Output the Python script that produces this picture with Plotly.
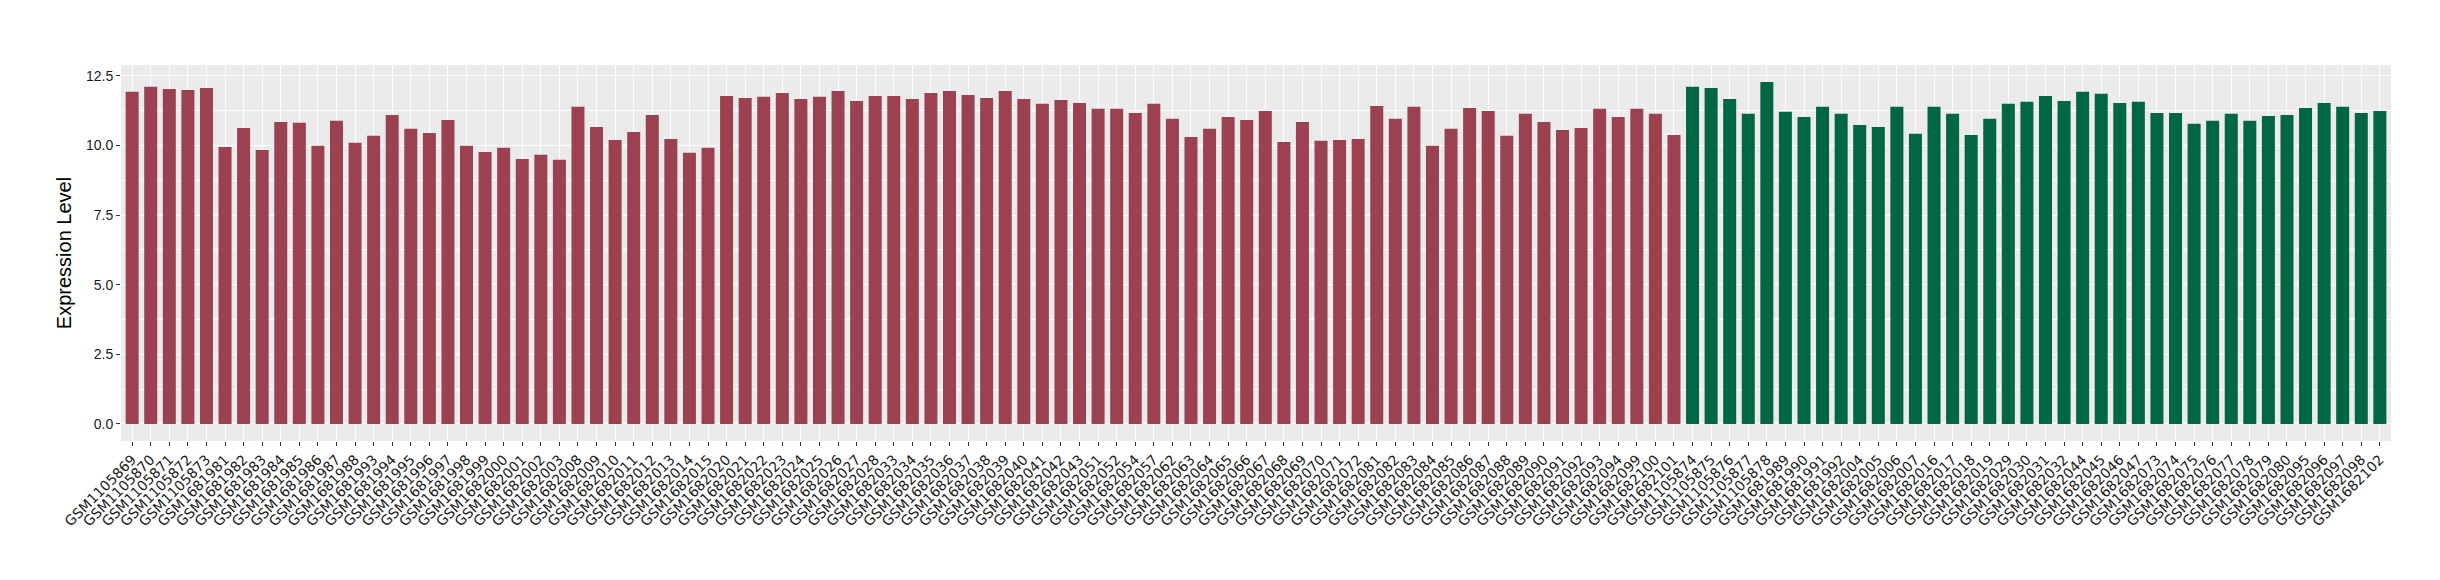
import plotly.graph_objects as go

group1_samples = [
    "GSM1105869", "GSM1105870", "GSM1105871", "GSM1105872", "GSM1105873",
    "GSM1681981", "GSM1681982", "GSM1681983", "GSM1681984", "GSM1681985",
    "GSM1681986", "GSM1681987", "GSM1681988", "GSM1681993", "GSM1681994",
    "GSM1681995", "GSM1681996", "GSM1681997", "GSM1681998", "GSM1681999",
    "GSM1682000", "GSM1682001", "GSM1682002", "GSM1682003", "GSM1682008",
    "GSM1682009", "GSM1682010", "GSM1682011", "GSM1682012", "GSM1682013",
    "GSM1682014", "GSM1682015", "GSM1682020", "GSM1682021", "GSM1682022",
    "GSM1682023", "GSM1682024", "GSM1682025", "GSM1682026", "GSM1682027",
    "GSM1682028", "GSM1682033", "GSM1682034", "GSM1682035", "GSM1682036",
    "GSM1682037", "GSM1682038", "GSM1682039", "GSM1682040", "GSM1682041",
    "GSM1682042", "GSM1682043", "GSM1682051", "GSM1682052", "GSM1682054",
    "GSM1682057", "GSM1682062", "GSM1682063", "GSM1682064", "GSM1682065",
    "GSM1682066", "GSM1682067", "GSM1682068", "GSM1682069", "GSM1682070",
    "GSM1682071", "GSM1682072", "GSM1682081", "GSM1682082", "GSM1682083",
    "GSM1682084", "GSM1682085", "GSM1682086", "GSM1682087", "GSM1682088",
    "GSM1682089", "GSM1682090", "GSM1682091", "GSM1682092", "GSM1682093",
    "GSM1682094", "GSM1682099", "GSM1682100", "GSM1682101",
]
group1_values = [
    11.93, 12.11, 12.03, 12.00, 12.07, 9.95, 10.63, 9.84, 10.85, 10.82,
    9.99, 10.89, 10.10, 10.35, 11.10, 10.60, 10.45, 10.92, 9.99, 9.77,
    9.92, 9.52, 9.67, 9.49, 11.39, 10.67, 10.20, 10.49, 11.10, 10.24,
    9.74, 9.92, 11.78, 11.71, 11.75, 11.89, 11.67, 11.75, 11.96, 11.60,
    11.78, 11.78, 11.67, 11.89, 11.96, 11.82, 11.71, 11.96, 11.67, 11.50,
    11.64, 11.53, 11.32, 11.32, 11.17, 11.50, 10.96, 10.31, 10.60, 11.03,
    10.92, 11.24, 10.13, 10.85, 10.17, 10.20, 10.24, 11.42, 10.96, 11.39,
    9.99, 10.60, 11.35, 11.24, 10.35, 11.14, 10.85, 10.56, 10.63, 11.32,
    11.03, 11.32, 11.14, 10.38,
]

group2_samples = [
    "GSM1105874", "GSM1105875", "GSM1105876", "GSM1105877", "GSM1105878",
    "GSM1681989", "GSM1681990", "GSM1681991", "GSM1681992", "GSM1682004",
    "GSM1682005", "GSM1682006", "GSM1682007", "GSM1682016", "GSM1682017",
    "GSM1682018", "GSM1682019", "GSM1682029", "GSM1682030", "GSM1682031",
    "GSM1682032", "GSM1682044", "GSM1682045", "GSM1682046", "GSM1682047",
    "GSM1682073", "GSM1682074", "GSM1682075", "GSM1682076", "GSM1682077",
    "GSM1682078", "GSM1682079", "GSM1682080", "GSM1682095", "GSM1682096",
    "GSM1682097", "GSM1682098", "GSM1682102",
]
group2_values = [
    12.11, 12.07, 11.67, 11.14, 12.28, 11.21, 11.03, 11.39, 11.14, 10.74,
    10.67, 11.39, 10.42, 11.39, 11.14, 10.38, 10.96, 11.50, 11.57, 11.78,
    11.60, 11.93, 11.86, 11.53, 11.57, 11.17, 11.17, 10.78, 10.89, 11.14,
    10.89, 11.06, 11.10, 11.35, 11.53, 11.39, 11.17, 11.24,
]

y_ticks = [0.0, 2.5, 5.0, 7.5, 10.0, 12.5]
y_tick_text = ["0.0", "2.5", "5.0", "7.5", "10.0", "12.5"]

color1 = "#9B4150"
color2 = "#006644"

all_samples = group1_samples + group2_samples
n = len(all_samples)
ymax = max(group1_values + group2_values)

fig = go.Figure()
fig.add_trace(go.Bar(x=group1_samples, y=group1_values, marker_color=color1,
                     marker_line_width=0, width=0.7, showlegend=False))
fig.add_trace(go.Bar(x=group2_samples, y=group2_values, marker_color=color2,
                     marker_line_width=0, width=0.7, showlegend=False))

font_family = "Liberation Sans, Arial, Helvetica, sans-serif"
xfont_family = "DejaVu Sans, sans-serif"

fig.update_layout(
    width=2440, height=580,
    barmode="overlay",
    paper_bgcolor="white",
    plot_bgcolor="#EBEBEB",
    margin=dict(l=113, r=57, t=57, b=147, pad=0),
    font=dict(family=font_family, color="#1a1a1a"),
    xaxis=dict(
        type="category",
        categoryorder="array", categoryarray=all_samples,
        range=[-0.6, n - 1 + 0.6],
        tickmode="array", tickvals=all_samples, ticktext=all_samples,
        tickangle=-45,
        tickfont=dict(size=14, color="#1a1a1a", family=xfont_family),
        ticks="outside", ticklen=4, tickwidth=1, tickcolor="#333333",
        showgrid=True, gridcolor="white", gridwidth=1.3,
        zeroline=False, showline=False, automargin=False,
    ),
    yaxis=dict(
        range=[-0.05 * ymax, ymax * 1.05],
        tickmode="array", tickvals=y_ticks, ticktext=y_tick_text,
        tickfont=dict(size=14, color="#1a1a1a", family=font_family),
        ticks="outside", ticklen=4, tickwidth=1, tickcolor="#333333",
        showgrid=True, gridcolor="white", gridwidth=1.3,
        minor=dict(dtick=1.25, tick0=0, showgrid=True, gridcolor="white", gridwidth=0.6, ticks=""),
        zeroline=False, showline=False, automargin=False,
        title=dict(text="Expression Level", font=dict(size=20, color="#000000", family=font_family), standoff=8),
    ),
)

fig.write_html("out.html")
